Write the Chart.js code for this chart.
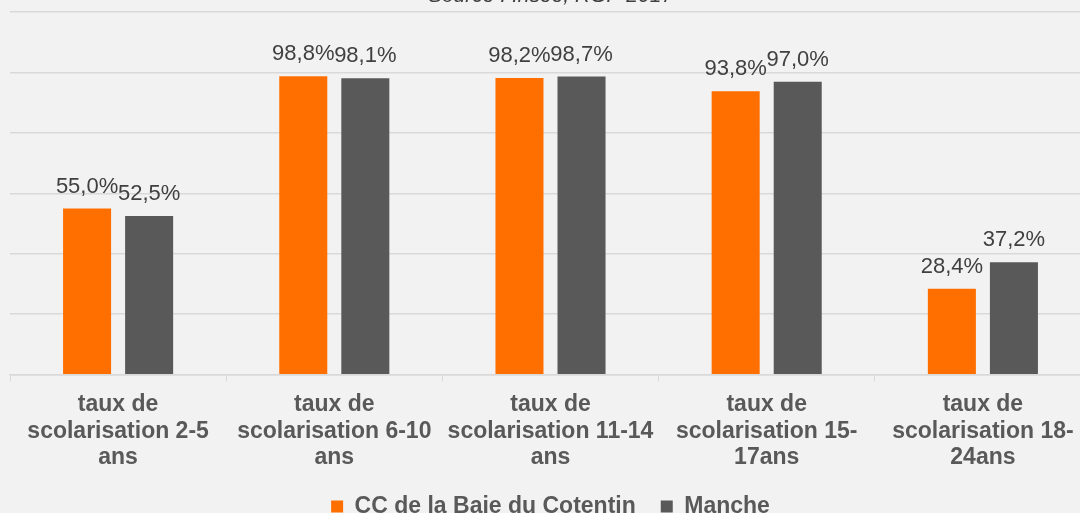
<!DOCTYPE html>
<html>
<head>
<meta charset="utf-8">
<script src="https://cdn.jsdelivr.net/npm/chart.js@4/dist/chart.umd.min.js"></script>
<style>
  html, body { margin: 0; padding: 0; background: #f2f2f2; overflow: hidden; width: 1080px; height: 513px; }
  #wrap { position: absolute; left: 0; top: -20px; width: 1102px; height: 562px; }
</style>
</head>
<body>
<div id="wrap"><canvas id="myChart"></canvas></div>
<script>
// categories (multi-line tick labels)
const categories = [
  ['taux de', 'scolarisation 2-5', 'ans'],
  ['taux de', 'scolarisation 6-10', 'ans'],
  ['taux de', 'scolarisation 11-14', 'ans'],
  ['taux de', 'scolarisation 15-', '17ans'],
  ['taux de', 'scolarisation 18-', '24ans']
]

// series values, in %
const baieCotentin = [55.0, 98.8, 98.2, 93.8, 28.4]
const manche = [52.5, 98.1, 98.7, 97.0, 37.2]

const seriesNames = ['CC de la Baie du Cotentin', 'Manche']

const FONT = "'Liberation Sans', Arial, sans-serif"

// small plugin to write the value over each bar (no datalabels plugin here)
const valueLabels = {
  id: 'valueLabels',
  afterDatasetsDraw(chart) {
    const ctx = chart.ctx
    ctx.save()
    ctx.font = '22px ' + FONT
    ctx.fillStyle = '#404040'
    ctx.textAlign = 'center'
    ctx.textBaseline = 'alphabetic'
    chart.data.datasets.forEach(function (ds, i) {
      chart.getDatasetMeta(i).data.forEach(function (bar, j) {
        const txt = ds.data[j].toFixed(1).replace('.', ',') + '%'
        ctx.fillText(txt, bar.x, bar.y - 16)
      })
    })
    ctx.restore()
  }
}

const ctx = document.getElementById('myChart').getContext('2d')
const chart = new Chart(ctx, {
  type: 'bar',
  data: {
    labels: categories,
    datasets: [{
      label: seriesNames[0],
      data: baieCotentin,
      backgroundColor: '#ff6f00',
      barPercentage: 0.774,
      categoryPercentage: 0.574
    }, {
      label: seriesNames[1],
      data: manche,
      backgroundColor: '#595959',
      barPercentage: 0.774,
      categoryPercentage: 0.574
    }]
  },
  options: {
    responsive: true,
    maintainAspectRatio: false,
    animation: false,
    layout: { padding: { left: 10, right: 11, top: 0, bottom: 14 } },
    plugins: {
      title: {
        display: true,
        text: 'Source : Insee, RGP 2017',
        color: '#404040',
        font: { family: FONT, size: 21, style: 'italic', weight: 'normal', lineHeight: 1.2 },
        padding: { top: 4, bottom: 3 }
      },
      legend: {
        position: 'bottom',
        labels: {
          boxWidth: 12,
          boxHeight: 12,
          padding: 25,
          color: '#595959',
          font: { family: FONT, size: 23, weight: 'bold' }
        }
      },
      tooltip: { enabled: false }
    },
    scales: {
      x: {
        grid: { display: true, drawOnChartArea: false, drawTicks: true, tickLength: 7, color: '#d9d9d9', offset: true },
        border: { display: true, color: '#d9d9d9', width: 1.5 },
        ticks: {
          color: '#595959',
          padding: 10,
          maxRotation: 0,
          autoSkip: false,
          font: { family: FONT, size: 23, weight: 'bold', lineHeight: 1.15 }
        },
        // let the legend sit closer to the labels
        afterFit: function (scale) { scale.height -= 11 }
      },
      y: {
        min: 0,
        max: 120,
        ticks: { display: false, stepSize: 20 },
        grid: { color: '#d9d9d9', lineWidth: 1.5, drawTicks: false },
        border: { display: false }
      }
    }
  },
  plugins: [valueLabels]
})
</script>
</body>
</html>
